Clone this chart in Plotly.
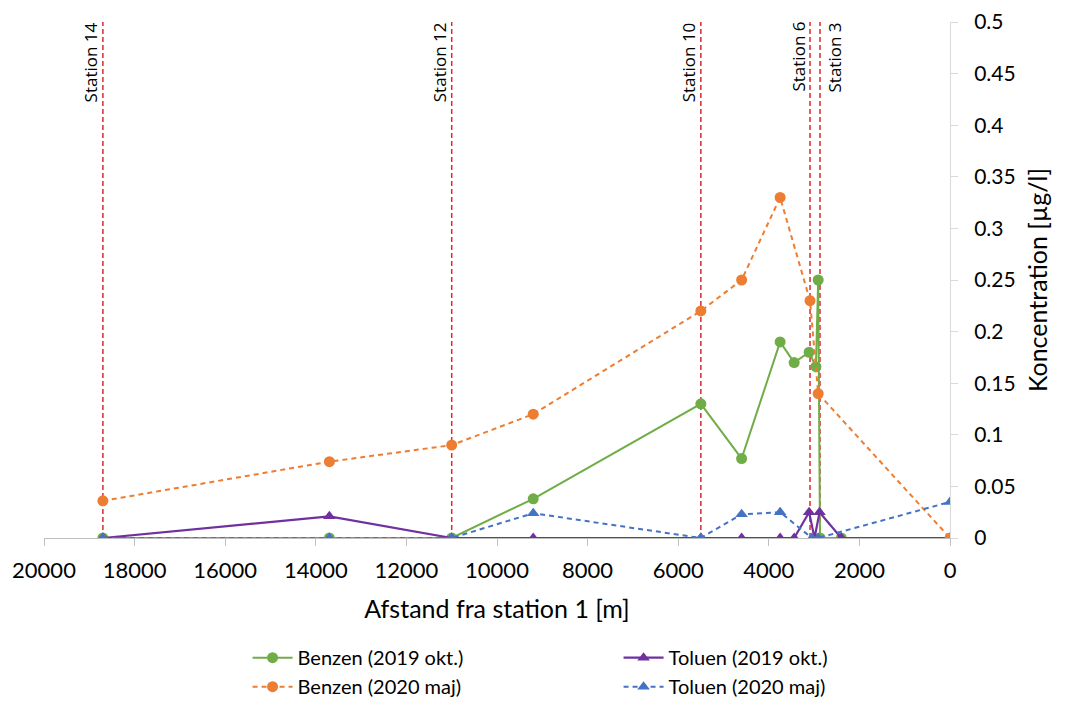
import plotly.graph_objects as go

# Distances [m] from station 1 and concentrations [µg/l]
benzen_2019_x = [18700, 13700, 11000, 9200, 5500, 4600, 3750, 3440, 3110, 2960, 2910, 2870, 2400]
benzen_2019_y = [0, 0, 0, 0.038, 0.13, 0.077, 0.19, 0.17, 0.18, 0.166, 0.25, 0, 0]

toluen_2019_x = [18700, 13700, 11000, 9200, 5500, 4600, 3750, 3440, 3110, 2990, 2880, 2400, 0]
toluen_2019_y = [0, 0.021, 0, 0, 0, 0, 0, 0, 0.025, 0, 0.025, 0, 0]

benzen_2020_x = [18700, 13700, 11000, 9200, 5500, 4600, 3750, 3090, 2910, 0]
benzen_2020_y = [0.036, 0.074, 0.09, 0.12, 0.22, 0.25, 0.33, 0.23, 0.14, 0]

toluen_2020_x = [18700, 13700, 11000, 9200, 5500, 4600, 3750, 3050, 2910, 0]
toluen_2020_y = [0, 0, 0, 0.024, 0, 0.023, 0.025, 0, 0, 0.035]

station_names = ["Station 14", "Station 12", "Station 10", "Station 6", "Station 3"]
station_x = [18700, 11000, 5500, 3090, 2870]
station_label_side = ["left", "left", "left", "left", "right"]

x_ticks = [20000, 18000, 16000, 14000, 12000, 10000, 8000, 6000, 4000, 2000, 0]
y_ticks = [0, 0.05, 0.1, 0.15, 0.2, 0.25, 0.3, 0.35, 0.4, 0.45, 0.5]
y_tick_labels = ["0", "0.05", "0.1", "0.15", "0.2", "0.25", "0.3", "0.35", "0.4", "0.45", "0.5"]

GREEN = "#70AD47"
ORANGE = "#ED7D31"
PURPLE = "#7030A0"
BLUE = "#4472C4"
RED = "#E0282E"

FONT = "Lato, 'Open Sans', sans-serif"

fig = go.Figure()

fig.add_trace(go.Scatter(
    x=benzen_2019_x, y=benzen_2019_y, mode="lines+markers",
    name="Benzen (2019 okt.)",
    line=dict(color=GREEN, width=2),
    marker=dict(symbol="circle", size=11, color=GREEN),
))
fig.add_trace(go.Scatter(
    x=toluen_2019_x, y=toluen_2019_y, mode="lines+markers",
    name="Toluen (2019 okt.)",
    line=dict(color=PURPLE, width=2.2),
    marker=dict(symbol="triangle-up", size=11, color=PURPLE),
))
fig.add_trace(go.Scatter(
    x=benzen_2020_x, y=benzen_2020_y, mode="lines+markers",
    name="Benzen (2020 maj)",
    line=dict(color=ORANGE, width=2, dash="5px,4px"),
    marker=dict(symbol="circle", size=11, color=ORANGE),
))
fig.add_trace(go.Scatter(
    x=toluen_2020_x, y=toluen_2020_y, mode="lines+markers",
    name="Toluen (2020 maj)",
    line=dict(color=BLUE, width=2, dash="5px,4px"),
    marker=dict(symbol="triangle-up", size=11, color=BLUE),
))

for name, sx, side in zip(station_names, station_x, station_label_side):
    fig.add_shape(type="line", xref="x", yref="paper", x0=sx, x1=sx, y0=0, y1=1,
                  line=dict(color=RED, width=1.5, dash="5px,3px"), layer="below")
    fig.add_annotation(
        x=sx, y=1, xref="x", yref="paper", text=name, showarrow=False,
        textangle=-90, xanchor="right" if side == "left" else "left", yanchor="top",
        xshift=1, yshift=2,
        font=dict(family="'Open Sans', sans-serif", size=17, color="#000"),
    )

fig.update_layout(
    width=1060, height=694,
    margin=dict(l=36, r=118, t=14, b=164, autoexpand=False),
    paper_bgcolor="white", plot_bgcolor="white",
    font=dict(family=FONT, color="#000"),
    showlegend=True,
    legend=dict(
        orientation="h", xref="container", yref="container",
        x=0.226, xanchor="left", y=0.092, yanchor="top",
        entrywidth=316, entrywidthmode="pixels",
        font=dict(size=20, family=FONT, color="#000"),
        tracegroupgap=0, itemwidth=40,
    ),
    xaxis=dict(
        range=[20000, 0], tickvals=x_ticks, tickformat="d", automargin=False,
        showgrid=False, zeroline=False,
        showline=True, linecolor="#BFBFBF", linewidth=1,
        ticks="outside", ticklen=7, tickcolor="#BFBFBF",
        ticklabelstandoff=6, ticklabeloverflow="allow",
        tickfont=dict(size=22, family=FONT, color="#000"),
        title=dict(text="Afstand fra station 1 [m]", font=dict(size=25, family=FONT, color="#000"), standoff=18),
    ),
    yaxis=dict(
        range=[0, 0.5], tickvals=y_ticks, ticktext=y_tick_labels,
        side="right", automargin=False,
        showgrid=False, zeroline=False,
        showline=True, linecolor="#D9D9D9", linewidth=1,
        ticks="outside", ticklen=7, tickcolor="#D9D9D9",
        ticklabelstandoff=12, ticklabeloverflow="allow",
        tickfont=dict(size=21, family=FONT, color="#000"),
        title=dict(text="Koncentration [µg/l]", font=dict(size=25, family=FONT, color="#000"), standoff=14),
    ),
)

fig.write_html("out.html")
